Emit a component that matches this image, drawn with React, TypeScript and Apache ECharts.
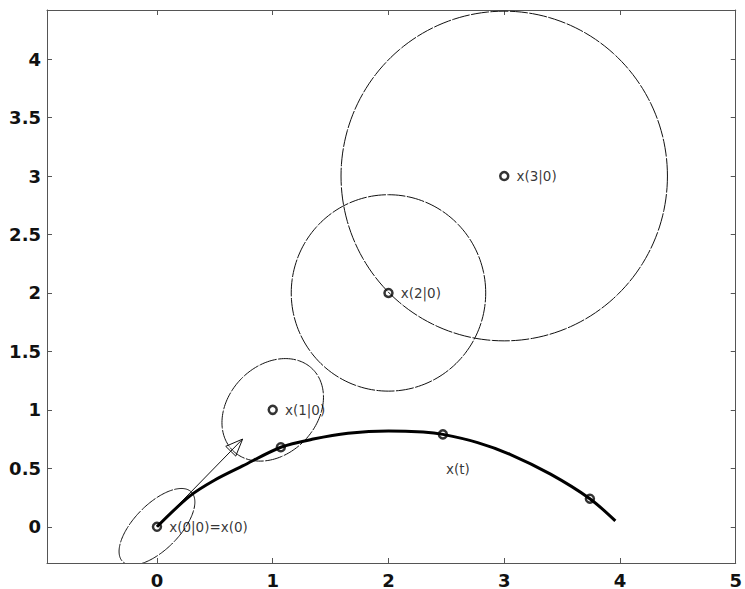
import React, { useEffect, useRef } from "react";
import * as echarts from "echarts";

// Axis ranges and tick labels
const xRange = [-0.95, 5];
const yRange = [-0.31, 4.42];
const xTicks = [0, 1, 2, 3, 4, 5];
const yTicks = [0, 0.5, 1, 1.5, 2, 2.5, 3, 3.5, 4];

// True trajectory x(t)
const curveX = [0, 0.28, 0.5, 0.74, 1.07, 1.35, 1.65, 2.0, 2.3, 2.47, 2.77, 3.05, 3.4, 3.74, 3.96];
const curveY = [0, 0.26, 0.4, 0.52, 0.68, 0.75, 0.8, 0.82, 0.81, 0.79, 0.72, 0.62, 0.45, 0.24, 0.05];

// Samples on the trajectory
const sampleX = [1.07, 2.47, 3.74];
const sampleY = [0.68, 0.79, 0.24];

// Predictions x(k|0)
const predX = [0, 1, 2, 3];
const predY = [0, 1, 2, 3];
const predLabels = ["x(0|0)=x(0)", "x(1|0)", "x(2|0)", "x(3|0)"];

// Uncertainty ellipses: centre, semi-axes, rotation (deg)
const ellipseCx = [0, 1, 2, 3];
const ellipseCy = [0, 1, 2, 3];
const ellipseA = [0.42, 0.49, 0.84, 1.41];
const ellipseB = [0.195, 0.38, 0.84, 1.41];
const ellipseAngle = [45, 45, 0, 0];

// Velocity arrow
const arrowStart = [0, 0];
const arrowEnd = [0.74, 0.75];

// Curve label
const curveLabel = "x(t)";
const curveLabelX = [2.6];
const curveLabelY = [0.49];

const axisColor = "#555";
const inkColor = "#111";

export default function App() {
  const ref = useRef<HTMLDivElement>(null);
  useEffect(() => {
    if (!ref.current) return;
    const chart = echarts.init(ref.current, null, { renderer: "svg" });

    const tickFont = {
      fontFamily: "DejaVu Sans",
      fontSize: 18,
      fontWeight: "bold",
      color: "#111",
    };

    const xAxisBase = {
      type: "value",
      min: xRange[0],
      max: xRange[1],
      splitLine: { show: false },
      axisLine: { show: true, onZero: false, lineStyle: { color: axisColor, width: 1 } },
      axisTick: { show: true, inside: true, length: 5, customValues: xTicks, lineStyle: { color: axisColor } },
    };
    const yAxisBase = {
      type: "value",
      min: yRange[0],
      max: yRange[1],
      splitLine: { show: false },
      axisLine: { show: true, onZero: false, lineStyle: { color: axisColor, width: 1 } },
      axisTick: { show: true, inside: true, length: 5, customValues: yTicks, lineStyle: { color: axisColor } },
    };

    const ellipseData = ellipseCx.map((cx, i) => [cx, ellipseCy[i], ellipseA[i], ellipseB[i], ellipseAngle[i]]);

    const option = {
      animation: false,
      backgroundColor: "#fff",
      grid: { left: 47, right: 5, top: 10, bottom: 26, containLabel: false },
      xAxis: [
        { ...xAxisBase, position: "bottom", axisLabel: { ...tickFont, customValues: xTicks, margin: 8 } },
        { ...xAxisBase, position: "top", axisLabel: { show: false } },
      ],
      yAxis: [
        { ...yAxisBase, position: "left", axisLabel: { ...tickFont, customValues: yTicks, margin: 6 } },
        { ...yAxisBase, position: "right", axisLabel: { show: false } },
      ],
      series: [
        {
          type: "custom",
          name: "ellipses",
          clip: true,
          xAxisIndex: 0,
          yAxisIndex: 0,
          data: ellipseData,
          renderItem: (params: any, api: any) => {
            const cx = api.value(0);
            const cy = api.value(1);
            const a = api.value(2);
            const b = api.value(3);
            const ang = (api.value(4) * Math.PI) / 180;
            const pts: number[][] = [];
            const n = 180;
            for (let i = 0; i <= n; i++) {
              const t = (i / n) * Math.PI * 2;
              const dx = a * Math.cos(t) * Math.cos(ang) - b * Math.sin(t) * Math.sin(ang);
              const dy = a * Math.cos(t) * Math.sin(ang) + b * Math.sin(t) * Math.cos(ang);
              pts.push(api.coord([cx + dx, cy + dy]));
            }
            return {
              type: "polyline",
              shape: { points: pts },
              style: { fill: null, stroke: inkColor, lineWidth: 1, lineDash: [18, 1.5] },
            };
          },
        },
        {
          type: "custom",
          name: "arrow",
          clip: true,
          data: [[arrowStart[0], arrowStart[1], arrowEnd[0], arrowEnd[1]]],
          renderItem: (params: any, api: any) => {
            const p0 = api.coord([api.value(0), api.value(1)]);
            const p1 = api.coord([api.value(2), api.value(3)]);
            const ang = Math.atan2(p1[1] - p0[1], p1[0] - p0[0]);
            const L = 17;
            const W = 7;
            const bx = p1[0] - L * Math.cos(ang);
            const by = p1[1] - L * Math.sin(ang);
            const left = [bx + W * Math.sin(ang), by - W * Math.cos(ang)];
            const right = [bx - W * Math.sin(ang), by + W * Math.cos(ang)];
            return {
              type: "group",
              children: [
                { type: "line", shape: { x1: p0[0], y1: p0[1], x2: p1[0], y2: p1[1] }, style: { stroke: inkColor, lineWidth: 1 } },
                { type: "polygon", shape: { points: [p1, left, right] }, style: { fill: "none", stroke: inkColor, lineWidth: 1 } },
              ],
            };
          },
        },
        {
          type: "line",
          name: "x(t)",
          data: curveX.map((x, i) => [x, curveY[i]]),
          smooth: 0.3,
          showSymbol: false,
          lineStyle: { color: "#000", width: 3 },
          z: 3,
        },
        {
          type: "scatter",
          name: "samples",
          data: sampleX.map((x, i) => [x, sampleY[i]]),
          symbol: "circle",
          symbolSize: 8,
          itemStyle: { color: "transparent", borderColor: "#000", borderWidth: 2.5 },
          z: 4,
        },
        {
          type: "scatter",
          name: "predictions",
          data: predX.map((x, i) => ({ value: [x, predY[i]], name: predLabels[i] })),
          symbol: "circle",
          symbolSize: 8,
          itemStyle: { color: "transparent", borderColor: "#000", borderWidth: 2.5 },
          label: {
            show: true,
            position: "right",
            distance: 7,
            formatter: (p: any) => p.name,
            fontFamily: "DejaVu Sans",
            fontSize: 13.5,
            color: "#000",
          },
          z: 4,
        },
        {
          type: "scatter",
          name: "curveLabel",
          data: curveLabelX.map((x, i) => ({ value: [x, curveLabelY[i]], name: curveLabel })),
          symbolSize: 0,
          label: {
            show: true,
            position: "inside",
            formatter: (p: any) => p.name,
            fontFamily: "DejaVu Sans",
            fontSize: 13.5,
            color: "#000",
          },
        },
      ],
    };

    chart.setOption(option as any);
    return () => chart.dispose();
  }, []);

  return (
    <div
      ref={ref}
      style={{ position: "fixed", left: 0, top: 0, width: 745, height: 589, background: "#fff" }}
    />
  );
}
